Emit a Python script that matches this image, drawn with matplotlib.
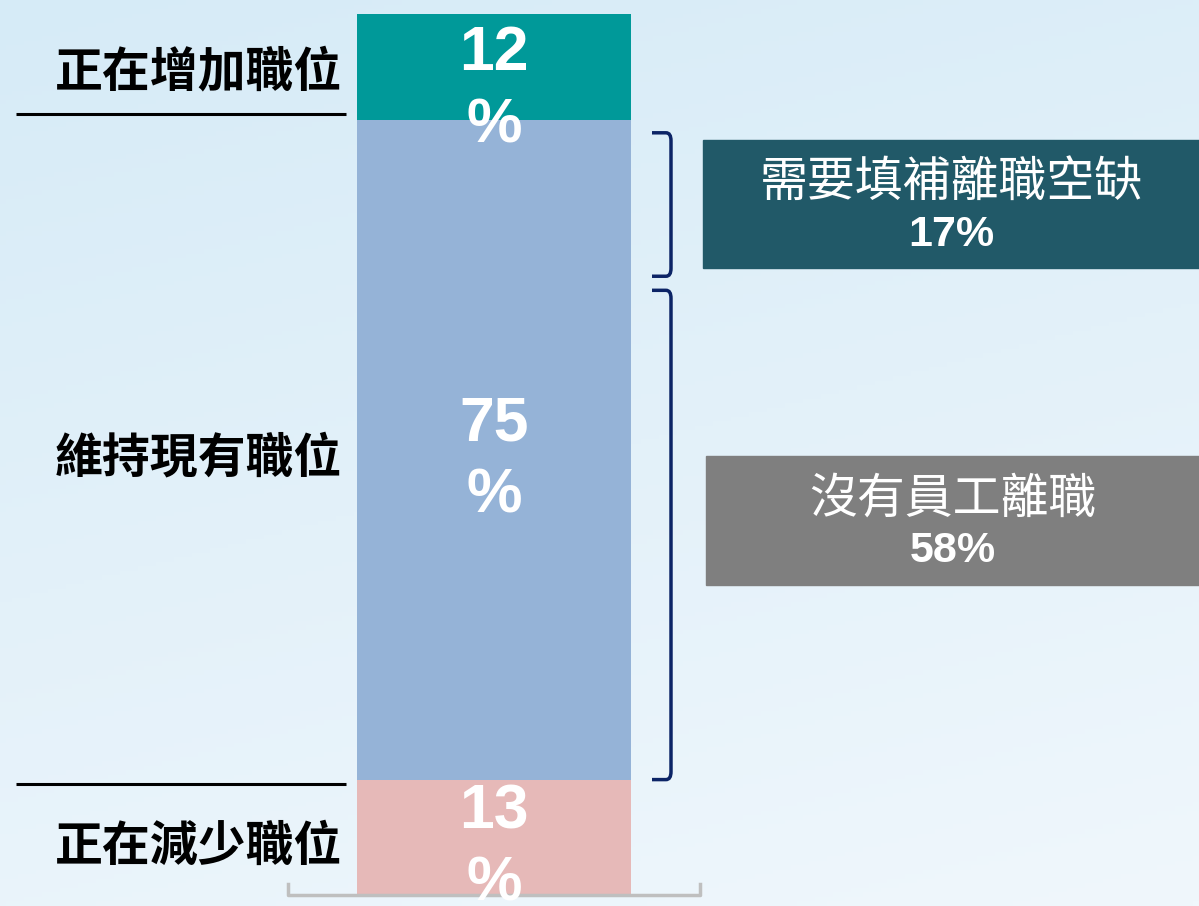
import numpy as np
import matplotlib
matplotlib.use("Agg")
import matplotlib.pyplot as plt
from matplotlib.path import Path
from matplotlib.patches import PathPatch, Rectangle

# data
segments = ["正在減少職位", "維持現有職位", "正在增加職位"]
values = [13, 75, 12]
seg_colors = ["#E6B9B8", "#95B3D7", "#009999"]
split_labels = ["沒有員工離職", "需要填補離職空缺"]
split_values = [58, 17]
split_colors = ["#7F7F7F", "#215968"]

cjk = ["Noto Sans CJK TC", "DejaVu Sans"]
num_font = "Liberation Sans"

W, H = 1199, 906
fig = plt.figure(figsize=(W / 100, H / 100), dpi=100)

# background gradient
bg = fig.add_axes([0, 0, 1, 1], zorder=0)
yy, xx = np.mgrid[0:1:200j, 0:1:200j]
t = np.clip(0.75 * yy + 0.25 * xx, 0, 1)
top = np.array([214, 235, 247]) / 255
bot = np.array([240, 247, 252]) / 255
img = top[None, None, :] * (1 - t[..., None]) + bot[None, None, :] * t[..., None]
bg.imshow(img, extent=[0, 1, 0, 1], aspect="auto", origin="upper")
bg.axis("off")

# main axes: x in layout pixels, y in percent (0 at bar bottom)
ax = fig.add_axes([0, 0, 1, 1], zorder=1)
ax.patch.set_alpha(0)
px = 8.8  # pixels per percent
ax.set_xlim(0, W)
ax.set_ylim(-12 / px, 100 + 14 / px)
ax.axis("off")

bar_x, bar_w = 494, 274
bottoms = np.concatenate([[0], np.cumsum(values)[:-1]])
for v, b, c in zip(values, bottoms, seg_colors):
    ax.bar([bar_x], v, bottom=b, width=bar_w, color=c, zorder=2)

# value labels inside bar (wrapped like the original)
val_offsets = [-1.3, -1.2, -2.6]
for v, b, off in zip(values, bottoms, val_offsets):
    ax.text(bar_x, b + v / 2 + off, f"{v}\n%", ha="center", va="center",
            color="white", fontsize=45, fontweight="bold", family=num_font,
            linespacing=1.29, zorder=5)

# left category labels and separator lines
lab_offsets = [-1.05, -1.0, -0.6]
for lab, v, b, off in zip(segments, values, bottoms, lab_offsets):
    ax.text(342, b + v / 2 + off, lab, ha="right", va="center",
            fontsize=34.5, fontweight="bold", family=cjk, color="black", zorder=5)
for yline in [bottoms[1] - 0.45, bottoms[2] + 0.6]:
    ax.plot([16, 346], [yline, yline], color="black", lw=2.2, zorder=3,
            solid_capstyle="butt")

# base axis line with end ticks
tick = 10 / px
ax.plot([288, 288, 700, 700], [tick, -0.1, -0.1, tick],
        color="#BFBFBF", lw=2.5, zorder=3)


def bracket(y0, y1, x_in=652, x_out=671, r=0.9):
    rx = 5
    verts = [(x_in, y1), (x_out - rx, y1), (x_out, y1), (x_out, y1 - r),
             (x_out, y0 + r), (x_out, y0), (x_out - rx, y0), (x_in, y0)]
    codes = [Path.MOVETO, Path.LINETO, Path.CURVE3, Path.CURVE3,
             Path.LINETO, Path.CURVE3, Path.CURVE3, Path.LINETO]
    ax.add_patch(PathPatch(Path(verts, codes), fill=False, ec="#0C2466",
                           lw=2.5, zorder=3))


base = values[0]
split_top = base + split_values[0]
bracket(base, split_top - 2.4)
bracket(split_top - 0.8, split_top + split_values[1] - 1.5)

# boxes with split labels
box_specs = [(706, 456, 585), (703, 140, 268)]  # x0, y_top_px, y_bot_px
for (x0, yt, yb), lab, v, c in zip(box_specs, split_labels, split_values, split_colors):
    y_top = (894 - yt) / px
    y_bot = (894 - yb) / px
    ax.add_patch(Rectangle((x0, y_bot), W - x0, y_top - y_bot, color=c, zorder=3))
    xc = (x0 + W) / 2
    ax.text(xc, y_top - 0.33 * (y_top - y_bot), lab, ha="center", va="center",
            color="white", fontsize=34.5, family=cjk, zorder=5)
    ax.text(xc, y_top - 0.74 * (y_top - y_bot), f"{v}%", ha="center", va="center",
            color="white", fontsize=31, fontweight="bold", family=num_font, zorder=5)

fig.savefig("out.png", dpi=100)
